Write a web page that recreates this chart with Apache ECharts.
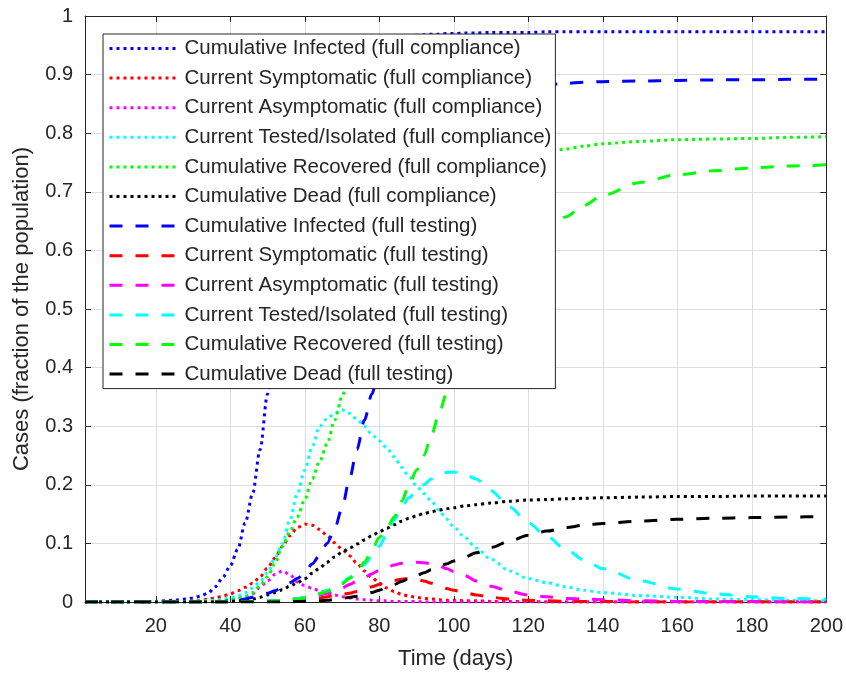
<!DOCTYPE html>
<html>
<head>
<meta charset="utf-8">
<script src="https://cdn.jsdelivr.net/npm/echarts@6/dist/echarts.min.js"></script>
<style>
html,body{margin:0;padding:0;background:#fff;}
#chart{width:846px;height:675px;}
</style>
</head>
<body>
<div id="chart"></div>
<script>
// Time (days) sample points
const days = [1,10,20,25,28, 30,32,34,36,38, 40,42,44,46,48, 50,52,54,56,58, 60,62,64,66,68,
  70,72,74,76,78, 80,82,84,86,88, 90,92,94,96,98, 100,103,106,110,115, 120,125,130,135,140,
  150,160,170,180,190, 200];

// Full compliance
const cumInfectedFC = [0,0,0.001,0.003,0.005, 0.007,0.01,0.015,0.026,0.042, 0.062,0.09,0.135,0.185,0.26,
  0.355,0.44,0.53,0.61,0.69, 0.75,0.80,0.845,0.875,0.90, 0.92,0.932,0.942,0.949,0.954,
  0.958,0.961,0.963,0.965,0.966, 0.967,0.968,0.969,0.969,0.970, 0.970,0.971,0.971,0.972,0.972,
  0.972,0.973,0.973,0.973,0.973, 0.973,0.973,0.973,0.973,0.973, 0.973];
const symptomaticFC = [0,0,0,0.001,0.001, 0.002,0.003,0.005,0.007,0.01, 0.014,0.019,0.025,0.032,0.043,
  0.058,0.075,0.095,0.113,0.127, 0.133,0.131,0.124,0.113,0.101, 0.09,0.079,0.066,0.053,0.042,
  0.032,0.024,0.018,0.013,0.01, 0.008,0.006,0.005,0.004,0.003, 0.003,0.002,0.002,0.001,0.001,
  0.001,0,0,0,0, 0,0,0,0,0, 0];
const asymptomaticFC = [0,0,0,0,0.001, 0.001,0.001,0.002,0.002,0.003, 0.004,0.006,0.009,0.014,0.025,
  0.036,0.047,0.053,0.047,0.034, 0.028,0.023,0.019,0.015,0.012, 0.009,0.007,0.005,0.004,0.003,
  0.002,0.002,0.001,0.001,0.001, 0.001,0,0,0,0, 0,0,0,0,0,
  0,0,0,0,0, 0,0,0,0,0, 0];
const testedFC = [0,0,0,0.001,0.001, 0.001,0.002,0.002,0.003,0.004, 0.007,0.01,0.016,0.024,0.035,
  0.05,0.075,0.10,0.14,0.185, 0.225,0.265,0.30,0.313,0.322, 0.328,0.322,0.312,0.30,0.286,
  0.275,0.263,0.248,0.23,0.214, 0.198,0.185,0.172,0.157,0.142, 0.128,0.11,0.092,0.073,0.053,
  0.04,0.033,0.026,0.02,0.016, 0.011,0.008,0.005,0.004,0.003, 0.002];
const recoveredFC = [0,0,0,0,0, 0,0.001,0.001,0.001,0.002, 0.003,0.006,0.01,0.016,0.028,
  0.043,0.066,0.095,0.12,0.145, 0.175,0.21,0.24,0.27,0.31, 0.35,0.395,0.435,0.47,0.50,
  0.528,0.55,0.57,0.59,0.605, 0.62,0.635,0.648,0.66,0.672, 0.683,0.698,0.712,0.728,0.745,
  0.757,0.767,0.773,0.778,0.782, 0.786,0.789,0.79,0.791,0.793, 0.794];
const deadFC = [0,0,0,0,0, 0,0,0,0,0.001, 0.001,0.002,0.003,0.005,0.008,
  0.012,0.016,0.021,0.027,0.033, 0.04,0.049,0.058,0.068,0.077, 0.085,0.092,0.099,0.106,0.113,
  0.12,0.126,0.132,0.138,0.143, 0.147,0.151,0.154,0.157,0.159, 0.161,0.164,0.166,0.169,0.172,
  0.174,0.175,0.176,0.177,0.178, 0.179,0.18,0.18,0.181,0.181, 0.181];

// Full testing
const cumInfectedFT = [0,0,0,0,0, 0,0.001,0.001,0.001,0.001, 0.002,0.003,0.005,0.008,0.011,
  0.015,0.019,0.026,0.033,0.04, 0.05,0.065,0.08,0.1,0.125, 0.16,0.21,0.26,0.31,0.355,
  0.40,0.45,0.50,0.55,0.60, 0.645,0.685,0.72,0.75,0.775, 0.797,0.822,0.84,0.857,0.87,
  0.878,0.883,0.885,0.887,0.888, 0.889,0.89,0.891,0.891,0.892, 0.892];
const symptomaticFT = [0,0,0,0,0, 0,0,0,0,0, 0.001,0.001,0.001,0.001,0.002,
  0.002,0.002,0.003,0.003,0.004, 0.005,0.006,0.007,0.009,0.011, 0.013,0.015,0.018,0.022,0.026,
  0.03,0.034,0.037,0.039,0.04, 0.039,0.036,0.032,0.027,0.023, 0.02,0.016,0.012,0.008,0.005,
  0.003,0.002,0.001,0.001,0.001, 0,0,0,0,0, 0];
const asymptomaticFT = [0,0,0,0,0, 0,0,0,0,0, 0.001,0.001,0.001,0.001,0.001,
  0.001,0.002,0.003,0.004,0.006, 0.007,0.009,0.012,0.015,0.019, 0.024,0.03,0.036,0.042,0.048,
  0.054,0.059,0.063,0.066,0.068, 0.068,0.067,0.065,0.062,0.057, 0.052,0.045,0.036,0.027,0.018,
  0.012,0.009,0.006,0.005,0.004, 0.002,0.001,0.001,0.001,0, 0];
const testedFT = [0,0,0,0,0, 0,0,0,0,0, 0.001,0.001,0.001,0.001,0.002,
  0.002,0.002,0.003,0.004,0.006, 0.008,0.011,0.015,0.02,0.026, 0.033,0.042,0.052,0.064,0.078,
  0.095,0.115,0.14,0.162,0.178, 0.19,0.2,0.21,0.217,0.221, 0.222,0.218,0.21,0.19,0.162,
  0.135,0.112,0.09,0.072,0.057, 0.036,0.022,0.014,0.009,0.006, 0.005];
const recoveredFT = [0,0,0,0,0, 0,0,0,0,0, 0,0,0.001,0.001,0.001,
  0.001,0.002,0.002,0.003,0.005, 0.007,0.01,0.014,0.018,0.024, 0.031,0.04,0.052,0.068,0.088,
  0.11,0.125,0.145,0.172,0.2, 0.225,0.25,0.285,0.32,0.355, 0.385,0.43,0.475,0.525,0.57,
  0.605,0.632,0.657,0.677,0.694, 0.716,0.729,0.736,0.741,0.744, 0.746];
const deadFT = [0,0,0,0,0, 0,0,0,0,0, 0,0,0,0,0, 0,0,0,0,0.001,
  0.001,0.001,0.002,0.003,0.004, 0.006,0.008,0.01,0.013,0.016,
  0.02,0.025,0.03,0.035,0.04, 0.045,0.05,0.055,0.06,0.065, 0.07,0.077,0.084,0.093,0.104,
  0.114,0.121,0.127,0.131,0.134, 0.138,0.141,0.143,0.144,0.145, 0.146];

const seriesNames = [
  'Cumulative Infected (full compliance)',
  'Current Symptomatic (full compliance)',
  'Current Asymptomatic (full compliance)',
  'Current Tested/Isolated (full compliance)',
  'Cumulative Recovered (full compliance)',
  'Cumulative Dead (full compliance)',
  'Cumulative Infected (full testing)',
  'Current Symptomatic (full testing)',
  'Current Asymptomatic (full testing)',
  'Current Tested/Isolated (full testing)',
  'Cumulative Recovered (full testing)',
  'Cumulative Dead (full testing)'
];
const seriesValues = [cumInfectedFC, symptomaticFC, asymptomaticFC, testedFC, recoveredFC, deadFC,
  cumInfectedFT, symptomaticFT, asymptomaticFT, testedFT, recoveredFT, deadFT];
const colors = ['#0000ff','#ff0000','#ff00ff','#00ffff','#00ff00','#000000'];

const FONT = '"Liberation Sans", Arial, Helvetica, sans-serif';
const AX = '#262626';

const series = seriesNames.map((name, i) => {
  const dotted = i < 6;
  return {
    name: name,
    type: 'line',
    xAxisIndex: 0,
    yAxisIndex: 0,
    symbol: 'none',
    showSymbol: false,
    smooth: 0.3,
    smoothMonotone: 'x',
    clip: true,
    animation: false,
    color: colors[i % 6],
    lineStyle: {
      color: colors[i % 6],
      width: 3,
      type: dotted ? [3, 4] : [13, 13],
      cap: 'butt'
    },
    data: days.map((d, k) => [d, seriesValues[i][k]])
  };
});

const chart = echarts.init(document.getElementById('chart'), null, {renderer: 'canvas', width: 846, height: 675});
chart.setOption({
  animation: false,
  backgroundColor: '#ffffff',
  textStyle: {fontFamily: FONT},
  grid: {left: 85, right: 19, top: 16, bottom: 72, containLabel: false},
  legend: {
    orient: 'vertical',
    left: 103,
    top: 34,
    padding: [4, 4, 4, 5],
    itemWidth: 70,
    itemHeight: 14,
    itemGap: 8.6,
    borderColor: AX,
    borderWidth: 1,
    borderRadius: 0,
    backgroundColor: '#ffffff',
    selectedMode: false,
    itemStyle: {opacity: 0, borderWidth: 0},
    lineStyle: {width: 3},
    textStyle: {fontFamily: FONT, fontSize: 20.5, color: AX, lineHeight: 20},
    data: seriesNames
  },
  xAxis: [{
    type: 'value',
    min: 1, max: 200,
    splitNumber: 10,
    position: 'bottom',
    name: 'Time (days)',
    nameLocation: 'middle',
    nameGap: 46,
    nameTextStyle: {fontFamily: FONT, fontSize: 22, color: AX},
    axisLine: {show: true, onZero: false, lineStyle: {color: AX, width: 1}},
    axisTick: {show: true, inside: true, length: 6, lineStyle: {color: AX}},
    axisLabel: {fontFamily: FONT, fontSize: 20, color: AX, margin: 14,
      formatter: v => (v === 1 ? '' : String(v))},
    splitLine: {show: true, lineStyle: {color: '#dedede', width: 1}}
  }, {
    type: 'value',
    min: 1, max: 200,
    splitNumber: 10,
    position: 'top',
    axisLine: {show: true, onZero: false, lineStyle: {color: AX, width: 1}},
    axisTick: {show: true, inside: true, length: 6, lineStyle: {color: AX}},
    axisLabel: {show: false},
    splitLine: {show: false}
  }],
  yAxis: [{
    type: 'value',
    min: 0, max: 1, interval: 0.1,
    position: 'left',
    name: 'Cases (fraction of the population)',
    nameLocation: 'middle',
    nameGap: 52,
    nameTextStyle: {fontFamily: FONT, fontSize: 22, color: AX},
    axisLine: {show: true, onZero: false, lineStyle: {color: AX, width: 1}},
    axisTick: {show: true, inside: true, length: 6, lineStyle: {color: AX}},
    axisLabel: {fontFamily: FONT, fontSize: 20, color: AX, margin: 12},
    splitLine: {show: true, lineStyle: {color: '#dedede', width: 1}}
  }, {
    type: 'value',
    min: 0, max: 1, interval: 0.1,
    position: 'right',
    axisLine: {show: true, onZero: false, lineStyle: {color: AX, width: 1}},
    axisTick: {show: true, inside: true, length: 6, lineStyle: {color: AX}},
    axisLabel: {show: false},
    splitLine: {show: false}
  }],
  series: series
});
</script>
</body>
</html>
